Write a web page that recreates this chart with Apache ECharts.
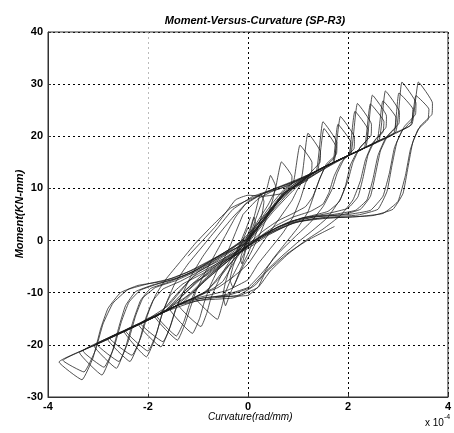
<!DOCTYPE html>
<html>
<head>
<meta charset="utf-8">
<script src="https://cdn.jsdelivr.net/npm/echarts@6/dist/echarts.min.js"></script>
<style>
html,body{margin:0;padding:0;background:#fff;}
#chart{width:454px;height:433px;}
</style>
</head>
<body>
<div id="chart"></div>
<script>
// Curvature in units of 1e-4 rad/mm, moment in KN-mm
const xTicks = [-4, -2, 0, 2, 4];
const yTicks = [-30, -20, -10, 0, 10, 20, 30, 40];

const loop01 = [[0,0.5],[0.2,3.8],[0.4,6.8],[0.54,9.5],[0.67,15.1],[0.88,12.3],[0.87,10.8],[0.72,9.5],[0.6,7.8],[0.5,6],[0.35,4.2],[0.15,1.8],[-0.1,-1.5],[-0.3,-4.5],[-0.5,-7.8],[-0.7,-9.2],[-1.06,-10.9],[-0.61,-15.1],[-0.52,-12.5],[-0.45,-10],[-0.36,-7.8],[-0.22,-5.2],[-0.08,-2.5],[0,0.5]];
const loop02 = [[0,0.3],[0.25,4],[0.5,7.3],[0.72,9.8],[0.91,11.2],[1.04,18.3],[1.28,15],[1.27,13.2],[1.1,11.5],[0.98,9.6],[0.88,7.7],[0.72,5.5],[0.5,2.5],[0.25,-1],[0,-4.5],[-0.3,-7],[-0.6,-9],[-1.0,-10.6],[-1.39,-12.4],[-0.94,-16.5],[-0.82,-13.8],[-0.74,-11],[-0.64,-8.8],[-0.5,-6],[-0.3,-3],[-0.12,-0.5],[0,0.3]];
const loop03 = [[-0.1,5],[0.2,8],[0.5,9.5],[0.8,10.5],[1.07,12],[1.2,20.6],[1.45,17],[1.44,15],[1.27,13.2],[1.15,11],[1.05,8],[0.9,4.5],[0.7,1.5],[0.45,-1.5],[0.2,-4.5],[0,-7.5],[-0.4,-9.5],[-0.8,-10.5],[-1.15,-11.3],[-1.56,-13.2],[-1.11,-17.8],[-0.97,-15],[-0.88,-12],[-0.77,-9],[-0.6,-5.5],[-0.4,-2],[-0.25,1.5],[-0.1,5]];
const loop04 = [[-0.05,7],[0.3,9],[0.7,10.5],[1.1,12],[1.37,13.4],[1.5,22.8],[1.78,18.8],[1.77,16.6],[1.57,14.7],[1.44,12],[1.33,9],[1.2,5.5],[1.0,2.5],[0.75,-0.5],[0.5,-3.5],[0.3,-6.5],[0.05,-9],[-0.4,-10.5],[-0.9,-11],[-1.35,-12.2],[-1.86,-14.6],[-1.41,-19.1],[-1.26,-16],[-1.15,-12.8],[-1.03,-9.5],[-0.85,-6],[-0.65,-2.5],[-0.45,1],[-0.25,4.5],[-0.05,7]];
const loop04b = [[0,0],[0.3,4],[0.6,8],[0.95,11],[1.25,12.8],[1.4,13.5],[1.52,21.5],[1.76,18],[1.74,16],[1.55,14.2],[1.42,11.5],[1.3,8.5],[1.15,6.5],[0.9,5.2],[0.6,3.8],[0.3,1.8],[0,-0.8],[-0.3,-3.8],[-0.6,-7.5],[-0.9,-10.1],[-1.35,-12.2],[-1.83,-14.4],[-1.43,-18.3],[-1.28,-15.5],[-1.17,-12.2],[-1.05,-9.6],[-0.88,-7.8],[-0.62,-5.8],[-0.3,-3],[0,0]];
const loop05 = [[0,7.5],[0.3,9],[0.65,10],[1.1,12],[1.5,14],[1.72,15],[1.85,23.8],[2.13,19.8],[2.12,17.6],[1.92,15.6],[1.78,12.8],[1.68,9.8],[1.5,6.5],[1.25,3.5],[0.95,0.8],[0.6,-2.5],[0.3,-6],[0,-9],[-0.5,-10.5],[-1.2,-11.5],[-1.7,-13.8],[-2.19,-16.1],[-1.74,-20.4],[-1.58,-17.2],[-1.46,-13.5],[-1.33,-10.6],[-1.15,-7],[-0.9,-3],[-0.6,1],[-0.3,4.5],[0,7.5]];
const loop05b = [[0,0.4],[0.3,4],[0.65,8.3],[1.1,11.8],[1.5,14],[1.7,14.9],[1.8,22.3],[2.06,18.8],[2.05,16.8],[1.86,15],[1.72,12.3],[1.62,9.2],[1.5,7],[1.25,5.6],[0.9,4.5],[0.55,2.8],[0.2,0.5],[-0.2,-2.8],[-0.55,-6.5],[-0.85,-10],[-1.4,-12.4],[-2.15,-15.9],[-1.7,-19.4],[-1.55,-16.4],[-1.43,-12.8],[-1.3,-10],[-1.1,-8.2],[-0.8,-6.5],[-0.45,-4],[-0.15,-1.5],[0,0.4]];
const loop06 = [[0.1,8.5],[0.4,9.5],[0.8,11],[1.3,13],[1.8,15.4],[2.06,16.6],[2.19,26.3],[2.47,22.3],[2.46,20.1],[2.25,18],[2.1,15],[2.0,11.5],[1.85,8],[1.6,4.5],[1.3,2],[1.0,-0.3],[0.7,-2.8],[0.4,-5.5],[0.15,-8.5],[-0.2,-10.5],[-0.7,-11],[-1.4,-12.4],[-2.0,-15.2],[-2.48,-17.4],[-2.03,-22.3],[-1.86,-18.8],[-1.73,-14.5],[-1.6,-11.2],[-1.45,-8],[-1.2,-4.5],[-0.9,-1],[-0.6,2.5],[-0.3,6],[0.1,8.5]];
const loop06b = [[0,0],[0.35,4.2],[0.7,8.5],[1.3,13],[1.8,15.4],[2.02,16.4],[2.14,24.8],[2.4,21.3],[2.38,19.3],[2.2,17.3],[2.05,14.5],[1.95,10.5],[1.83,7.5],[1.6,5.6],[1.2,4.6],[0.8,3.5],[0.4,1.6],[0,-1],[-0.5,-4.3],[-0.9,-8],[-1.3,-11.8],[-1.9,-14.7],[-2.45,-17.3],[-2,-21.2],[-1.83,-17.8],[-1.7,-13.5],[-1.55,-10.5],[-1.3,-8.3],[-0.9,-6.3],[-0.5,-3.6],[0,0]];
const loop07 = [[0,0.2],[0.35,4.5],[0.75,9.3],[1.4,13.5],[2.0,16.3],[2.36,18],[2.49,27.9],[2.77,23.9],[2.76,21.7],[2.55,19.4],[2.4,16.4],[2.3,12],[2.2,8.4],[2.0,6.2],[1.6,5.2],[1.1,4.3],[0.6,2.6],[0.2,0.3],[-0.2,-2.5],[-0.6,-5.5],[-1.0,-9],[-1.5,-12.9],[-2.2,-16.1],[-2.81,-18.9],[-2.36,-23.2],[-2.18,-19.5],[-2.05,-15],[-1.9,-11.5],[-1.7,-9.3],[-1.35,-7.8],[-0.9,-5.5],[-0.4,-2.5],[0,0.2]];
const loop07b = [[0.05,8],[0.45,9.6],[0.9,11.2],[1.5,14],[2.05,16.5],[2.33,17.8],[2.45,26.2],[2.72,22.8],[2.7,20.8],[2.5,18.8],[2.35,15.5],[2.25,11.5],[2.1,7.8],[1.85,4.8],[1.5,2.2],[1.15,0],[0.8,-2.6],[0.45,-5.8],[0.2,-9],[-0.3,-11],[-1.0,-11.5],[-1.7,-13.8],[-2.3,-16.6],[-2.77,-18.7],[-2.32,-22],[-2.14,-18.5],[-2.0,-14],[-1.85,-10.5],[-1.65,-7.5],[-1.35,-4],[-1.05,-0.5],[-0.7,3],[-0.35,6.2],[0.05,8]];
const loop08 = [[0,0.3],[0.4,5],[0.8,9.6],[1.5,14],[2.1,16.8],[2.62,19.2],[2.75,28.7],[3.03,24.7],[3.02,22.5],[2.8,20.2],[2.65,17.2],[2.55,12.7],[2.45,8.5],[2.25,6],[1.9,5],[1.3,4.5],[0.8,3.2],[0.4,1.3],[0,-1.2],[-0.5,-4.2],[-0.9,-7],[-1.3,-10.5],[-1.7,-13.8],[-2.3,-16.6],[-3.08,-20.2],[-2.63,-24.5],[-2.45,-20.5],[-2.3,-15.5],[-2.15,-11.5],[-1.95,-9.2],[-1.6,-8],[-1.1,-6],[-0.6,-3],[0,0.3]];
const loop08b = [[0,-0.2],[0.45,5.3],[0.9,10],[1.6,14.4],[2.2,17.2],[2.58,19],[2.7,26.8],[2.96,23.6],[2.95,21.6],[2.75,19.6],[2.6,16.3],[2.5,11.8],[2.38,7.8],[2.15,5.8],[1.7,5],[1.1,4.4],[0.6,2.6],[0.2,0.5],[-0.3,-3.2],[-0.8,-6.8],[-1.2,-10.5],[-1.8,-14.3],[-2.5,-17.5],[-3.02,-19.9],[-2.58,-23.2],[-2.4,-19.5],[-2.25,-14.5],[-2.1,-11],[-1.85,-9],[-1.45,-7.7],[-0.95,-5.5],[-0.45,-2.6],[0,-0.2]];
const loop09 = [[0,0.8],[0.4,5.5],[0.8,9.5],[1.4,13.5],[2.2,17.2],[2.95,20.7],[3.08,30.4],[3.36,26.4],[3.35,24.2],[3.13,21.9],[2.98,18.9],[2.88,14.4],[2.78,9.4],[2.6,6],[2.2,4.9],[1.5,4.4],[0.9,3.4],[0.4,1],[0,-1.5],[-0.5,-4],[-0.9,-6.5],[-1.3,-10],[-1.7,-13.8],[-2.3,-16.6],[-2.8,-18.9],[-3.37,-21.5],[-2.92,-25.8],[-2.72,-21.5],[-2.58,-16.5],[-2.45,-12.5],[-2.25,-9.8],[-1.9,-8.5],[-1.5,-7.5],[-1.0,-5.5],[-0.5,-2.5],[0,0.8]];
const loop09b = [[0,1.2],[0.5,6.5],[1.0,10.8],[1.8,15.2],[2.5,18.6],[2.92,20.6],[3.02,28.3],[3.3,25.2],[3.28,23],[3.08,21],[2.93,17.8],[2.83,13],[2.7,8.5],[2.45,5.8],[2.0,5],[1.4,4.6],[0.9,3.8],[0.4,1.6],[0,-0.8],[-0.6,-4.6],[-1.1,-8.5],[-1.6,-13.3],[-2.3,-16.6],[-3.3,-21.2],[-2.88,-24.3],[-2.68,-20.5],[-2.53,-15.5],[-2.38,-11.8],[-2.15,-9.5],[-1.8,-8.3],[-1.3,-6.8],[-0.8,-4.5],[-0.3,-1.5],[0,1.2]];
const loop10 = [[0,0.5],[0.4,5],[0.8,10],[1.5,14],[2.2,17.2],[2.9,20.5],[3.28,22.3],[3.41,30.4],[3.69,26.4],[3.68,24.2],[3.45,22.0],[3.3,19],[3.2,14],[3.1,9],[2.9,6],[2.5,4.8],[2.0,4.5],[1.3,4.2],[0.9,3.3],[0.4,1.2],[0,-1],[-0.5,-3.5],[-1.0,-6],[-1.4,-10],[-1.8,-14.3],[-2.4,-17.1],[-3.0,-19.8],[-3.78,-23.3],[-3.32,-26.7],[-3.1,-22.5],[-2.95,-17],[-2.8,-13],[-2.55,-10],[-2.2,-8.6],[-1.7,-7.8],[-1.2,-6],[-0.6,-3],[0,0.5]];
const loop10b = [[0,-0.5],[0.5,5.5],[1.0,10.5],[1.7,14.8],[2.5,18.6],[3.25,22.1],[3.36,27.8],[3.62,25.2],[3.6,23.2],[3.4,21.3],[3.25,17.5],[3.15,12.5],[3.0,7.5],[2.7,5.2],[2.2,4.6],[1.6,4.3],[1.0,3.6],[0.5,1.8],[0,-0.5],[-0.5,-3.8],[-1.1,-7],[-1.6,-12.5],[-2.2,-16.2],[-3.0,-19.8],[-3.7,-23],[-3.28,-25.2],[-3.05,-21],[-2.9,-16],[-2.7,-12],[-2.4,-9.4],[-2,-8.3],[-1.5,-7.2],[-1.0,-5.2],[-0.5,-2.6],[0,-0.5]];
const loopS1 = [[0,0],[0.15,4],[0.3,8],[0.38,10],[0.45,12.5],[0.55,10.5],[0.5,8],[0.4,5],[0.25,1.5],[0.05,-2.5],[-0.1,-5],[-0.25,-8],[-0.35,-10],[-0.45,-12.5],[-0.5,-10.5],[-0.45,-8],[-0.35,-5],[-0.2,-1.5],[-0.05,2],[0.05,4.5]];
const loopS2 = [[-0.1,-2],[0.05,2],[0.15,5.5],[0.25,9],[0.32,7.5],[0.28,5],[0.15,1],[0,-2.5],[-0.15,-5.5],[-0.3,-9],[-0.36,-7.5],[-0.3,-5],[-0.15,-1],[0,2.5]];
const loopS3 = [[-0.05,0],[0.05,2.5],[0.12,4.5],[0.15,3.5],[0.05,0.5],[-0.05,-2],[-0.12,-4.5],[-0.15,-3.5],[-0.05,-0.5]];
const loopS4 = [[-1.2,-3],[-0.65,2.7],[-0.25,7.8],[0,8.7],[0.3,8.5],[0.67,9],[1.2,11.6]];
const loopS5 = [[1.73,2.7],[1.2,0.1],[0.8,-2.4],[0.34,-6.3],[0.21,-8.8],[0,-10.5],[-0.65,-10.8]];

const loops = [loop01, loop02, loop03, loop04, loop04b, loop05, loop05b, loop06, loop06b, loop07, loop07b,
  loop08, loop08b, loop09, loop09b, loop10, loop10b, loopS1, loopS2, loopS3, loopS4, loopS5];

const FONT = 'Liberation Sans';
const chart = echarts.init(document.getElementById('chart'), null, {renderer: 'canvas'});

const series = loops.map(d => ({
  type: 'line',
  data: d,
  showSymbol: false,
  smooth: 0.12,
  silent: true,
  lineStyle: {color: '#1a1a1a', width: 0.75},
  z: 3
}));

chart.setOption({
  animation: false,
  backgroundColor: '#fff',
  title: {
    text: 'Moment-Versus-Curvature (SP-R3)',
    left: 250, top: 10, textAlign: 'center',
    textStyle: {fontFamily: FONT, fontSize: 11, fontStyle: 'italic', fontWeight: 'bold', color: '#000'}
  },
  grid: {left: 48, right: 2, top: 32, bottom: 36, show: true, borderColor: '#333', borderWidth: 1, backgroundColor: 'transparent', z: 10},
  xAxis: {
    type: 'value', min: xTicks[0], max: xTicks[xTicks.length - 1], interval: 2,
    axisLine: {show: true, onZero: false, lineStyle: {color: '#333', width: 1}},
    axisTick: {show: true, inside: true, length: 3, lineStyle: {color: '#333'}},
    axisLabel: {fontFamily: FONT, fontSize: 11, fontWeight: 'bold', color: '#000', margin: 4},
    splitLine: {show: true, showMinLine: true, showMaxLine: true, lineStyle: {color: ['#000', '#bbb', '#000', '#000', '#000'], type: [2, 3], width: 1}}
  },
  yAxis: {
    type: 'value', min: yTicks[0], max: yTicks[yTicks.length - 1], interval: 10,
    axisLine: {show: true, onZero: false, lineStyle: {color: '#333', width: 1}},
    axisTick: {show: true, inside: true, length: 3, lineStyle: {color: '#333'}},
    axisLabel: {fontFamily: FONT, fontSize: 11, fontWeight: 'bold', color: '#000', margin: 5},
    splitLine: {show: true, lineStyle: {color: '#000', type: [2, 3], width: 1}}
  },
  graphic: [
    {type: 'text', left: 208, top: 412, style: {text: 'Curvature(rad/mm)', font: 'italic 10px "Liberation Sans"', fill: '#000'}},
    {type: 'text', x: 20, y: 214, rotation: Math.PI / 2, style: {text: 'Moment(KN-mm)', font: 'italic bold 11px "Liberation Sans"', fill: '#000', align: 'center', verticalAlign: 'middle'}},
    {type: 'text', left: 425, top: 414, style: {
      text: '{a|x 10}{b|-4}', rich: {
        a: {font: '10px "Liberation Sans"', fill: '#000', padding: [8, 0, 0, 0]},
        b: {font: '7px "Liberation Sans"', fill: '#000', padding: [0, 0, 4, 0]}
      }}}
  ],
  series: series
});
</script>
</body>
</html>
